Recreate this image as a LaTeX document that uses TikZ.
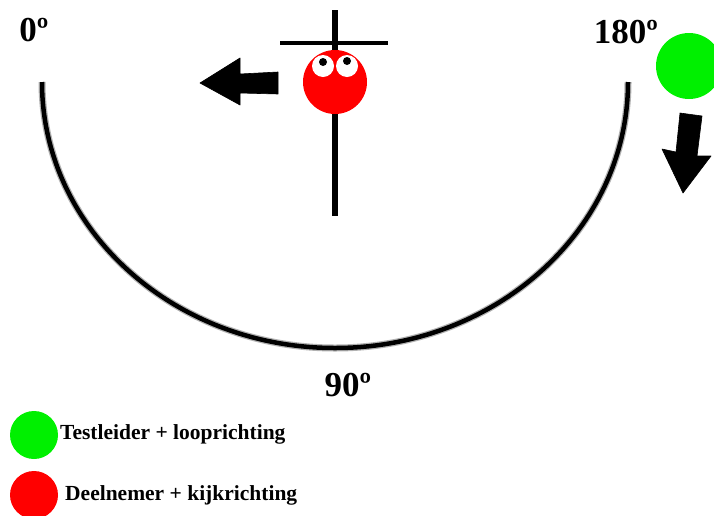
\documentclass[tikz,border=0pt]{standalone}
\usepackage{fontspec}
\setmainfont{Liberation Serif}
\usepackage{xcolor}
\usetikzlibrary{positioning}
\definecolor{leadgreen}{RGB}{0,240,0}
\definecolor{persred}{RGB}{255,0,0}

\begin{document}
\begin{tikzpicture}[x=1pt, y=-1pt, every node/.style={inner sep=0pt, font=\bfseries}]
      \tikzstyle{degree}=[font=\fontsize{35}{37}\selectfont\bfseries]
      \tikzstyle{legend}=[font=\fontsize{21.5}{23}\selectfont\bfseries, anchor=base west]
      \tikzstyle{bigarrow}=[fill=black, draw=black, line width=0.6pt, line join=round]
      \useasboundingbox (0,0) rectangle (714,515);
      % half circle path
      \draw[line width=7pt, black!30] (42,82) arc[start angle=180, end angle=0, x radius=293, y radius=266];
      \draw[line width=4.5pt, black] (42,82) arc[start angle=180, end angle=0, x radius=293, y radius=266];
      % angle labels
      \node[degree] (deg0) at (34,30) {0º};
      \node[degree] (deg180) at (626,32) {180º};
      \node[degree] (deg90) at (348,385) {90º};
      % cross
      \coordinate (crosstop) at (335,10);
      \coordinate (crossbot) at (335,216);
      \coordinate (crossleft) at (280,43);
      \coordinate (crossright) at (388,43);
      \draw[line width=6pt] (crosstop) -- (crossbot);
      \draw[line width=4pt] (crossleft) -- (crossright);
      % participant
      \node[circle, fill=persred, minimum size=64pt] (pers) at (335,82) {};
      \node[circle, fill=white, minimum size=22pt] (eyel) at (323,66) {};
      \node[circle, fill=white, minimum size=22pt] (eyer) at (347,66) {};
      \node[circle, fill=black, minimum size=8pt] at (323,62) {};
      \node[circle, fill=black, minimum size=8pt] at (347,61) {};
      \fill[bigarrow] (278,72) -- (278,94) -- (240,93) -- (240,105) -- (200,83) -- (240,58) -- (240,74) -- cycle;
      % test leader
      \node[circle, fill=leadgreen, minimum size=66pt] (lead) at (689,66) {};
      \fill[bigarrow] (680,113) -- (702,116) -- (697,156) -- (711,156) -- (683,193) -- (662,149) -- (676,152) -- cycle;
      % legend
      \node[circle, fill=leadgreen, minimum size=48pt] (legg) at (34,435) {};
      \node[legend] (legtextg) at (60,439) {Testleider + looprichting};
      \node[circle, fill=persred, minimum size=48pt] (legr) at (34,495) {};
      \node[legend] (legtextr) at (65,500) {Deelnemer + kijkrichting};
    \end{tikzpicture}
\end{document}
